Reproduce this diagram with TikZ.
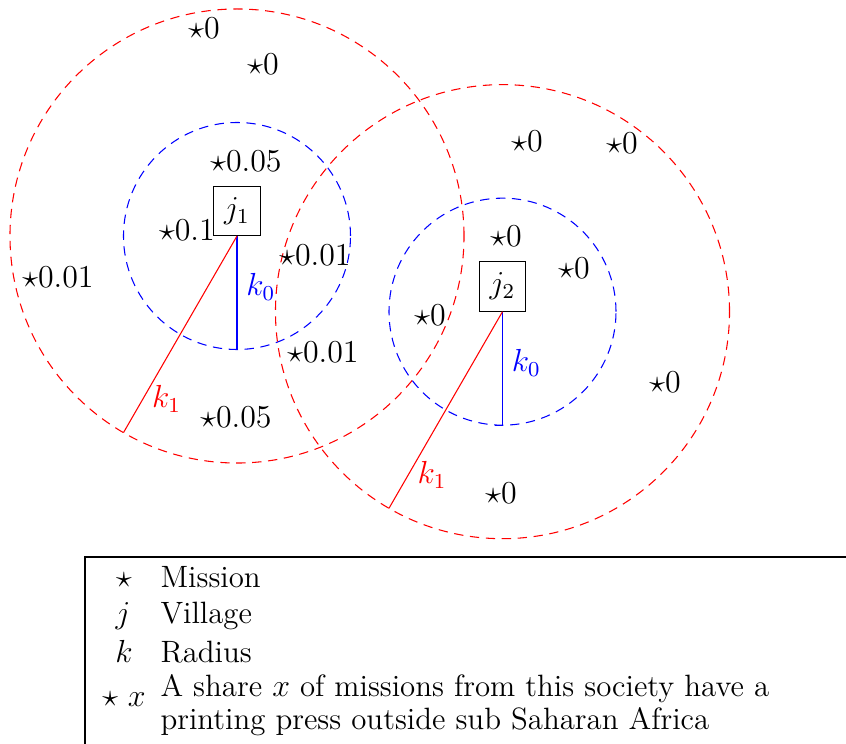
\documentclass[tikz,border=0pt]{standalone}
\usetikzlibrary{calc}
\tikzset{
  lbl/.style={font=\fontsize{11.6}{13}\selectfont, inner sep=0pt},
  bigcirc/.style={red, dash pattern=on 3.5pt off 2.5pt},
  smallcirc/.style={blue, dash pattern=on 3.5pt off 2.5pt},
  village/.style={draw, font=\fontsize{11.6}{13}\selectfont, minimum width=0.61cm, minimum height=0.65cm, inner sep=0pt, anchor=south},
  klabel/.style={font=\fontsize{11.6}{13}\selectfont},
}
\begin{document}
\begin{tikzpicture}[x=0.013215cm,y=-0.013215cm]
\clip (0,0) rectangle (846,744);
\coordinate (c1) at (237,236);
\coordinate (c2) at (502.5,311.67);
% circles
\draw[bigcirc] (c1) circle[radius=3cm];
\draw[smallcirc] (c1) circle[radius=1.5cm];
\draw[bigcirc] (c2) circle[radius=3cm];
\draw[smallcirc] (c2) circle[radius=1.5cm];
% villages
\node[village] (j1) at (c1) {$j_1$};
\node[village] (j2) at (c2) {$j_2$};
\coordinate (b1) at ($(c1)+(0,-1.5cm)$);
\coordinate (e1) at ($(c1)+(240:3cm)$);
\coordinate (b2) at ($(c2)+(0,-1.5cm)$);
\coordinate (e2) at ($(c2)+(240:3cm)$);
\draw[blue] (j1.south) -- node[klabel, pos=0.45, right] (k01) {$k_0$} (b1) -- ++(-8,0);
\draw[red] (j1.south) -- node[klabel, pos=0.83, right] (k11) {$k_1$} (e1);
\draw[blue] (j2.south) -- node[klabel, pos=0.45, right] (k02) {$k_0$} (b2) -- ++(-8,0);
\draw[red] (j2.south) -- node[klabel, pos=0.83, right] (k12) {$k_1$} (e2);
% missions
\node[lbl] (s1) at (204,28) {$\star0$};
\node[lbl] (s2) at (263,64) {$\star0$};
\node[lbl] (s3) at (246,161) {$\star0.05$};
\node[lbl] (s4) at (187,230) {$\star0.1$};
\node[lbl] (s5) at (315,255) {$\star0.01$};
\node[lbl] (s6) at (323,352) {$\star0.01$};
\node[lbl] (s7) at (58,277) {$\star0.01$};
\node[lbl] (s8) at (236,417) {$\star0.05$};
\node[lbl] (s9) at (527,141) {$\star0$};
\node[lbl] (s10) at (622,143) {$\star0$};
\node[lbl] (s11) at (506,236) {$\star0$};
\node[lbl] (s12) at (430,315) {$\star0$};
\node[lbl] (s13) at (574,268) {$\star0$};
\node[lbl] (s14) at (665,382) {$\star0$};
\node[lbl] (s15) at (501,493) {$\star0$};
% legend
\draw (85,557) rectangle (900,800);
\node[lbl, anchor=base] (l1) at (124,588) {$\star$};
\node[lbl, anchor=base west] (t1) at (160,588) {Mission};
\node[lbl, anchor=base] (l2) at (123,624) {$j$};
\node[lbl, anchor=base west] (t2) at (160,624) {Village};
\node[lbl, anchor=base] (l3) at (124,663) {$k$};
\node[lbl, anchor=base west] (t3) at (160,663) {Radius};
\node[lbl, anchor=base] (l4) at (124,707) {$\star$ $x$};
\node[lbl, anchor=base west] (t4) at (160,697) {A share $x$ of missions from this society have a};
\node[lbl, anchor=base west] (t5) at (160,730) {printing press outside sub Saharan Africa};
\end{tikzpicture}
\end{document}
